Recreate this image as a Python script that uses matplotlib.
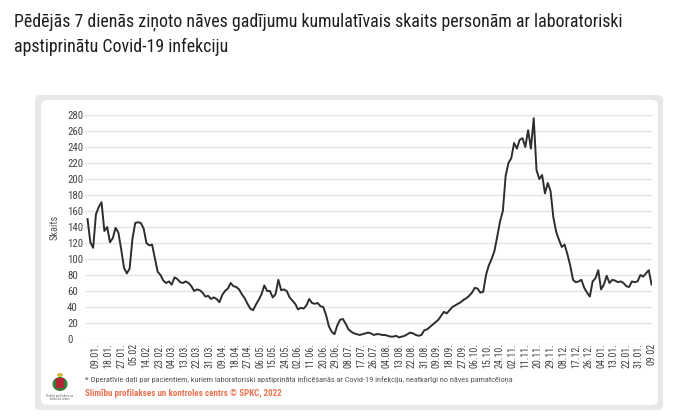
import numpy as np
import pandas as pd
import matplotlib
matplotlib.use('Agg')
import matplotlib.pyplot as plt
from matplotlib.patches import FancyBboxPatch, Ellipse, Rectangle

# vērtības ik pēc 2 dienām, no 03.01.2021 līdz 09.02.2022
skaits = [
    150, 121, 114, 156, 165, 171, 135, 140, 121, 126,
    139, 133, 112, 89, 82, 88, 125, 145, 146, 145,
    138, 120, 117, 118, 101, 84, 80, 73, 70, 72,
    68, 77, 75, 71, 70, 72, 70, 66, 60, 62,
    61, 58, 53, 54, 50, 52, 50, 46, 55, 60,
    63, 70, 66, 65, 62, 56, 51, 44, 38, 36,
    43, 49, 56, 67, 60, 60, 52, 56, 74, 61,
    62, 60, 52, 48, 44, 37, 39, 38, 42, 50,
    45, 44, 45, 41, 40, 30, 16, 9, 6, 17,
    24, 25, 19, 12, 9, 7, 6, 5, 6, 7,
    8, 7, 5, 6, 6, 5, 5, 4, 3, 3,
    4, 2, 3, 4, 6, 8, 7, 5, 4, 5,
    11, 12, 15, 18, 21, 24, 29, 34, 32, 36,
    40, 42, 44, 46, 49, 51, 54, 58, 64, 63,
    58, 59, 80, 92, 100, 110, 128, 147, 160, 204,
    220, 226, 245, 238, 249, 251, 240, 261, 238, 276,
    211, 200, 205, 182, 195, 185, 152, 134, 124, 115,
    118, 106, 92, 74, 71, 72, 74, 64, 58, 53,
    72, 76, 86, 62, 68, 79, 70, 74, 73, 71,
    72, 70, 66, 65, 72, 71, 72, 80, 78, 82,
    86, 68,
]
datumi = pd.date_range('2021-01-03', periods=len(skaits), freq='2D')

tick_labels = ['09.01.', '18.01.', '27.01.', '05.02', '14.02.', '23.02.', '04.03.', '13.03.',
               '22.03.', '31.03.', '09.04.', '18.04.', '27.04.', '06.05.', '15.05.', '24.05.',
               '02.06.', '11.06.', '20.06.', '29.06.', '08.07.', '17.07.', '26.07.', '04.08.',
               '13.08.', '22.08.', '31.08.', '09.09.', '18.09.', '27.09.', '06.10.', '15.10.',
               '24.10.', '02.11.', '11.11.', '20.11.', '29.11.', '08.12.', '17.12.', '26.12.',
               '04.01.', '13.01.', '22.01.', '31.01.', '09.02']
tick_dates = pd.date_range('2021-01-09', periods=len(tick_labels), freq='9D')
y_ticks = list(range(0, 281, 20))

virsraksts = ['Pēdējās 7 dienās ziņoto nāves gadījumu kumulatīvais skaits personām ar laboratoriski',
              'apstiprinātu Covid-19 infekciju']
piezime = ('* Operatīvie dati par pacientiem, kuriem laboratoriski apstiprināta inficēšanās '
           'ar Covid-19 infekciju, neatkarīgi no nāves pamatcēloņa')
avots = 'Slimību profilakses un kontroles centrs © SPKC, 2022'

plt.rcParams['font.family'] = ['Roboto Condensed', 'Liberation Sans Narrow', 'Roboto', 'DejaVu Sans']

fig = plt.figure(figsize=(7, 4.18), dpi=100)

# fona asis pikseļu koordinātēs (0..700, 0..418 no augšas)
bg = fig.add_axes([0, 0, 1, 1])
bg.set_xlim(0, 700)
bg.set_ylim(418, 0)
bg.axis('off')

bg.add_patch(FancyBboxPatch((35, 95), 628, 315, boxstyle='round,pad=0,rounding_size=5',
                            facecolor='#e8e8e8', edgecolor='none'))
bg.add_patch(FancyBboxPatch((41, 100), 617, 305, boxstyle='round,pad=0,rounding_size=6',
                            facecolor='white', edgecolor='none'))

r = fig.canvas.get_renderer()
def fit(t, width_px):
    w = t.get_window_extent(r).width
    t.set_fontsize(t.get_fontsize() * width_px / w)

t1 = bg.text(14, 26, virsraksts[0], fontsize=12, color='#1e1e1e', va='baseline')
fit(t1, 608)
t2 = bg.text(14, 52, virsraksts[1], fontsize=t1.get_fontsize(), color='#1e1e1e', va='baseline')

t3 = bg.text(85, 380, piezime, fontsize=6, color='#555555', va='center')
fit(t3, 432)
t4 = bg.text(85, 393, avots, fontsize=7, color='#ea7150', va='center', fontweight='bold')
fit(t4, 195)

# logo (vienkāršots ģerbonis)
bg.add_patch(Ellipse((60, 384), 15, 14, facecolor='#3c7a3a', edgecolor='none'))
bg.add_patch(Rectangle((56, 378), 8, 10, facecolor='#b3263a', edgecolor='none'))
bg.add_patch(Ellipse((60, 375), 6, 4, facecolor='#d8b640', edgecolor='none'))
bg.text(60, 395.5, 'Slimību profilakses un', fontsize=2.2, color='#666666', ha='center', va='center')
bg.text(60, 399, 'kontroles centrs', fontsize=2.2, color='#666666', ha='center', va='center')

# galvenais grafiks
ax = fig.add_axes([85/700, 1 - 339/418, (652 - 85)/700, (339 - 115)/418])
ax.set_facecolor('none')
ax.plot(datumi, skaits, color='#2d2d2d', lw=1.4, solid_joinstyle='round')

start = pd.Timestamp('2021-01-09')
ax.set_xlim(start - pd.Timedelta(days=7.8), start + pd.Timedelta(days=396.3))
ax.set_ylim(0, 280)
ax.set_yticks(y_ticks)
ax.set_yticklabels([str(v) for v in y_ticks], ha='left')
ax.set_xticks(tick_dates)
ax.set_xticklabels(tick_labels, rotation=90)
ax.tick_params(axis='both', length=0, colors='#444444')
ax.tick_params(axis='x', labelsize=7.2, pad=3)
ax.tick_params(axis='y', labelsize=7.8, pad=13)
ax.grid(axis='y', color='#e4e4e4', lw=1)
ax.set_axisbelow(True)
for s in ax.spines.values():
    s.set_visible(False)
ax.set_ylabel('Skaits', fontsize=7.5, color='#555555')
ax.yaxis.set_label_coords(-0.044, 0.5)

fig.savefig('out.png', dpi=100)
